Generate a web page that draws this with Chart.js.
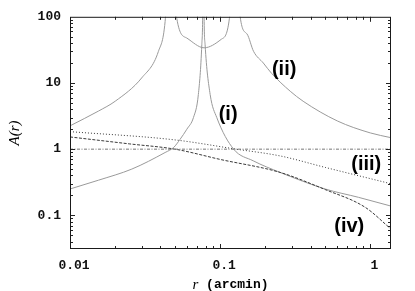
<!DOCTYPE html>
<html><head><meta charset="utf-8">
<script src="https://cdn.jsdelivr.net/npm/chart.js@4"></script>
<style>html,body{margin:0;padding:0;background:#fff}canvas{display:block}</style>
</head><body>
<canvas id="c" width="415" height="291"></canvas>
<script>
// ---- tick labels ----
const xTickValues = [0.01, 0.1, 1];
const xTickLabels = ['0.01', '0.1', '1'];
const yTickValues = [0.1, 1, 10, 100];
const yTickLabels = ['0.1', '1', '10', '100'];

// ---- series (r in arcmin, A(r)); null separates branches ----
const r_i  = [0.01, 0.0155, 0.0258, 0.043, 0.049, 0.054, 0.06, 0.0664, 0.0716, 0.0755, 0.0765, 0.0771, 0.0774, 0.0777, 0.0782, 0.0794, 0.0858, 0.095, 0.123, 0.166, 0.251, 0.501, 0.836, 1.374];
const A_i  = [0.25, 0.34, 0.50, 0.89, 1.06, 1.4, 2.0, 3.0, 6.7, 38, 100, 1000, null, 1000, 100, 38, 6.7, 3.0, 1.0, 0.667, 0.445, 0.25, 0.187, 0.138];

const r_ii = [0.01, 0.0155, 0.02, 0.03, 0.0388, 0.043, 0.0445, 0.047, 0.0502, 0.0514, 0.060, 0.0782, 0.1016, 0.1153, 0.1175, 0.125, 0.1335, 0.136, 0.151, 0.167, 0.194, 0.22, 0.293, 0.357, 0.603, 1.0, 1.374];
const A_ii = [2.25, 3.77, 5.3, 11.9, 30, 85, 300, null, 300, 95, 47.7, 34, 45.6, 95, 300, null, 300, 100, 55, 30, 20, 14, 7.5, 5.3, 2.67, 1.76, 1.49];

const r_iii = [0.01, 0.05, 0.128, 0.251, 0.501, 1.374];
const A_iii = [1.84, 1.38, 1.0, 0.79, 0.53, 0.30];

const r_iv = [0.01, 0.025, 0.05, 0.1, 0.251, 0.501, 0.926, 1.374];
const A_iv = [1.53, 1.2, 1.0, 0.70, 0.445, 0.245, 0.132, 0.062];

const r_one = [0.01, 1.374];
const A_one = [1, 1];

// ---- curve labels (data coordinates) ----
const curveNames = ['(i)', '(ii)', '(iii)', '(iv)'];
const curveNameR = [0.113, 0.267, 0.94, 0.724];
const curveNameA = [3.4, 16.1, 0.58, 0.068];

const pts = (rs, as) => rs.map((r, k) => ({x: r, y: as[k]}));

const decorPlugin = {
  id: 'decor',
  afterDraw(chart) {
    const {ctx, chartArea: a, scales: {x, y}} = chart;
    ctx.save();
    ctx.strokeStyle = '#222';
    ctx.lineWidth = 1;
    const tickX = (v, len) => {
      const px = Math.round(x.getPixelForValue(v)) + 0.5;
      ctx.beginPath();
      ctx.moveTo(px, a.bottom); ctx.lineTo(px, a.bottom - len);
      ctx.moveTo(px, a.top); ctx.lineTo(px, a.top + len);
      ctx.stroke();
    };
    const tickY = (v, len) => {
      const py = Math.round(y.getPixelForValue(v)) + 0.5;
      ctx.beginPath();
      ctx.moveTo(a.left, py); ctx.lineTo(a.left + len, py);
      ctx.moveTo(a.right, py); ctx.lineTo(a.right - len, py);
      ctx.stroke();
    };
    for (let e = -3; e <= 2; e++) {
      for (let k = 1; k <= 9; k++) {
        const v = k * Math.pow(10, e);
        const major = k === 1;
        if (v > x.min * 1.0001 && v < x.max * 0.9999) tickX(v, major ? 5 : 3);
        if (v > y.min * 1.0001 && v < y.max * 0.9999) tickY(v, major ? 5 : 3);
      }
    }
    ctx.strokeStyle = '#1a1a1a';
    ctx.strokeRect(a.left + 0.5, a.top + 0.5, a.right - a.left - 1, a.bottom - a.top - 1);

    ctx.fillStyle = '#000';
    ctx.font = 'bold 20px "Liberation Sans", Arial, sans-serif';
    ctx.textAlign = 'center';
    ctx.textBaseline = 'middle';
    curveNames.forEach((t, k) => {
      ctx.fillText(t, x.getPixelForValue(curveNameR[k]), y.getPixelForValue(curveNameA[k]));
    });

    const cx = (a.left + a.right) / 2;
    const ty = a.bottom + 36;
    ctx.textAlign = 'left';
    ctx.textBaseline = 'middle';
    const f1 = 'italic 15px "Liberation Serif", serif';
    const f2 = 'bold 13px "Liberation Mono", monospace';
    ctx.font = f1; const w1 = ctx.measureText('r').width;
    ctx.font = f2; const w2 = ctx.measureText(' (arcmin)').width;
    const sx = cx - (w1 + w2) / 2;
    ctx.font = f1; ctx.fillText('r', sx, ty);
    ctx.font = f2; ctx.fillText(' (arcmin)', sx + w1, ty);

    ctx.translate(15, (a.top + a.bottom) / 2);
    ctx.rotate(-Math.PI / 2);
    ctx.textAlign = 'center';
    ctx.font = 'italic 15px "Liberation Serif", serif';
    ctx.fillText('A(r)', 0, 0);
    ctx.restore();
  }
};

const labelFor = (vals, labels) => (v) => {
  const i = vals.findIndex(t => Math.abs(Math.log10(t) - Math.log10(v)) < 1e-6);
  return i >= 0 ? labels[i] : '';
};

new Chart(document.getElementById('c'), {
  type: 'line',
  data: {
    datasets: [
      {label: 'A=1', data: pts(r_one, A_one), borderColor: '#777', borderWidth: 1, borderDash: [3, 1.5, 1, 1.5]},
      {label: '(iii)', data: pts(r_iii, A_iii), borderColor: '#3a3a3a', borderWidth: 1, borderDash: [1, 2]},
      {label: '(iv)', data: pts(r_iv, A_iv), borderColor: '#3a3a3a', borderWidth: 1, borderDash: [3, 1.5]},
      {label: '(i)', data: pts(r_i, A_i), borderColor: '#9a9a9a', borderWidth: 1},
      {label: '(ii)', data: pts(r_ii, A_ii), borderColor: '#9a9a9a', borderWidth: 1}
    ]
  },
  options: {
    responsive: false,
    animation: false,
    devicePixelRatio: 1,
    spanGaps: false,
    layout: {padding: {top: 16, right: 24, bottom: 0, left: 0}},
    plugins: {legend: {display: false}, tooltip: {enabled: false}},
    elements: {point: {radius: 0}, line: {cubicInterpolationMode: 'monotone', fill: false}},
    scales: {
      x: {
        type: 'logarithmic', min: 0.01, max: 1.374,
        grid: {display: false, drawTicks: false}, border: {display: false},
        afterBuildTicks: s => { s.ticks = xTickValues.map(v => ({value: v})); },
        afterFit: s => { s.height = 42; },
        ticks: {autoSkip: false, maxRotation: 0, padding: 9, labelOffset: 4, color: '#111',
          font: {family: '"Liberation Mono", monospace', size: 13, weight: 'bold'},
          callback: labelFor(xTickValues, xTickLabels)}
      },
      y: {
        type: 'logarithmic', min: 0.031, max: 100,
        grid: {display: false, drawTicks: false}, border: {display: false},
        afterBuildTicks: s => { s.ticks = yTickValues.map(v => ({value: v})); },
        afterFit: s => { s.width = 70; },
        ticks: {autoSkip: false, padding: 9, color: '#111',
          font: {family: '"Liberation Mono", monospace', size: 13, weight: 'bold'},
          callback: labelFor(yTickValues, yTickLabels)}
      }
    }
  },
  plugins: [decorPlugin]
});
</script>
</body></html>
